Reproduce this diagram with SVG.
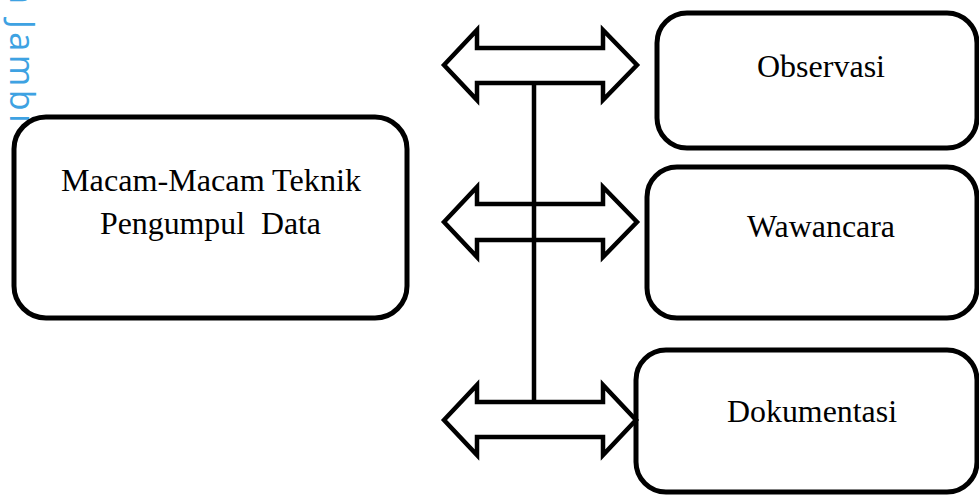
<svg xmlns="http://www.w3.org/2000/svg" width="979" height="497" viewBox="0 0 979 497">
<style>
.box{fill:#fff;stroke:#000;stroke-width:5}
.lbl{font-family:"Liberation Serif","Times New Roman",serif;font-size:32px;fill:#000;white-space:pre}
.arr{fill:#fff;stroke:#000;stroke-width:4.5;stroke-linejoin:miter}
.wm{font-family:"Open Sans","DejaVu Sans",sans-serif;font-size:34px;letter-spacing:3.5px;fill:#3ea2e2}
</style>
<rect width="979" height="497" fill="#fff"/>
<text class="wm" transform="translate(10,-15) rotate(90)">a Jambi</text>
<g id="node-main">
<rect class="box" x="14" y="117" width="393" height="201" rx="32" ry="32"/>
<text class="lbl" x="61" y="191" textLength="300" lengthAdjust="spacingAndGlyphs">Macam-Macam Teknik</text>
<text class="lbl" x="100" y="234" textLength="221" lengthAdjust="spacingAndGlyphs" xml:space="preserve">Pengumpul  Data</text>
</g>
<g id="node-observasi">
<rect class="box" x="657" y="13" width="320" height="135" rx="30" ry="30"/>
<text class="lbl" x="757" y="77" textLength="128" lengthAdjust="spacingAndGlyphs">Observasi</text>
</g>
<g id="node-wawancara">
<rect class="box" x="647" y="167" width="330" height="151" rx="30" ry="30"/>
<text class="lbl" x="747" y="237" textLength="148" lengthAdjust="spacingAndGlyphs">Wawancara</text>
</g>
<g id="node-dokumentasi">
<rect class="box" x="636" y="350" width="341" height="142" rx="30" ry="30"/>
<text class="lbl" x="727" y="422" textLength="170" lengthAdjust="spacingAndGlyphs">Dokumentasi</text>
</g>
<g id="connectors">
<path class="arr" d="M444,65 L477,30 L477,48 L603,48 L603,30 L637,65 L603,100 L603,83 L477,83 L477,100 Z"/>
<path class="arr" d="M444,222 L477,187 L477,204 L603,204 L603,187 L637,222 L603,257 L603,240 L477,240 L477,257 Z"/>
<path class="arr" d="M444,420 L477,385 L477,402 L603,402 L603,385 L636,420 L603,455 L603,437 L477,437 L477,455 Z"/>
<line x1="534" y1="83" x2="534" y2="402" stroke="#000" stroke-width="4.5"/>
</g>
</svg>
